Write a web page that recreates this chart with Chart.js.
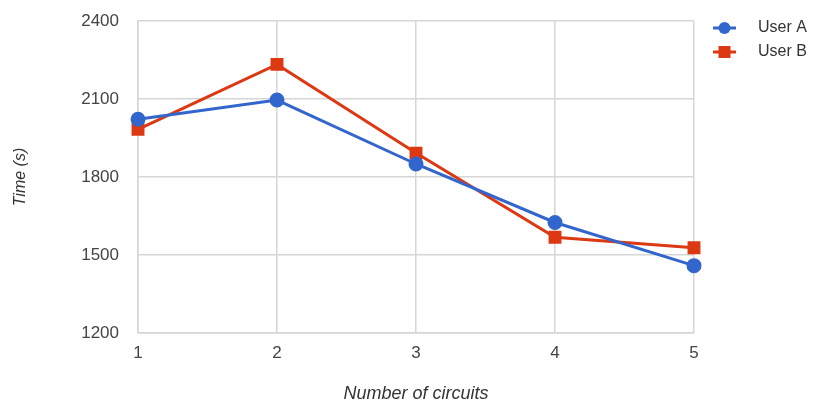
<!DOCTYPE html>
<html>
<head>
<meta charset="utf-8">
<script src="https://cdn.jsdelivr.net/npm/chart.js@4/dist/chart.umd.min.js"></script>
<style>
  html, body { margin: 0; padding: 0; background: #fff; }
  #wrap { width: 815px; height: 406px; }
</style>
</head>
<body>
<div id="wrap"><canvas id="chart" width="815" height="406"></canvas></div>
<script>
// Time per run vs number of circuits, two users.
const circuits = ['1', '2', '3', '4', '5'];
const userA = [2022, 2096, 1850, 1625, 1459];
const userB = [1983, 2233, 1892, 1568, 1528];
const yTicks = [1200, 1500, 1800, 2100, 2400];

const FONT = 'Arial, "Liberation Sans", sans-serif';
const BLUE = '#3366cc';
const RED = '#dc3912';

// Legend drawn by hand: line with marker in the middle, Google-chart style.
const sideLegend = {
    id: 'sideLegend',
    afterDraw(chart) {
        const ctx = chart.ctx;
        const x0 = 713, x1 = 736, tx = 758;
        chart.data.datasets.forEach((ds, i) => {
            const y = 28 + i * 24;
            ctx.save();
            ctx.strokeStyle = ds.borderColor;
            ctx.lineWidth = 3;
            ctx.beginPath();
            ctx.moveTo(x0, y);
            ctx.lineTo(x1, y);
            ctx.stroke();
            ctx.fillStyle = ds.backgroundColor;
            const cx = (x0 + x1) / 2;
            if (ds.pointStyle === 'rect') {
                ctx.fillRect(cx - 6, y - 6, 12, 12);
            } else {
                ctx.beginPath();
                ctx.arc(cx, y, 6, 0, Math.PI * 2);
                ctx.fill();
            }
            ctx.fillStyle = '#333';
            ctx.font = '16px ' + FONT;
            ctx.textBaseline = 'middle';
            ctx.textAlign = 'left';
            ctx.fillText(ds.label, tx, y);
            ctx.restore();
        });
    }
};

new Chart(document.getElementById('chart').getContext('2d'), {
    type: 'line',
    data: {
        labels: circuits,
        datasets: [
            { label: 'User A', data: userA, borderColor: BLUE, backgroundColor: BLUE,
              borderWidth: 3, pointStyle: 'circle', pointRadius: 6, pointHoverRadius: 6, tension: 0 },
            { label: 'User B', data: userB, borderColor: RED, backgroundColor: RED,
              borderWidth: 3, pointStyle: 'rect', pointRadius: 7, pointHoverRadius: 7, tension: 0 }
        ]
    },
    options: {
        responsive: false,
        animation: false,
        layout: { padding: { left: 0, right: 121, top: 21, bottom: 0 } },
        plugins: { legend: { display: false }, tooltip: { enabled: false } },
        scales: {
            x: {
                offset: false,
                grid: { color: '#d6d6d6', lineWidth: 1.5, drawTicks: false },
                border: { color: '#d6d6d6', width: 1.5 },
                ticks: { color: '#444', font: { size: 17, family: FONT }, padding: 10 },
                title: { display: true, text: 'Number of circuits', color: '#333',
                         font: { size: 18, style: 'italic', family: FONT }, padding: { top: 0, bottom: 1 } },
                afterFit: s => { s.height = 73; }
            },
            y: {
                min: yTicks[0], max: yTicks[yTicks.length - 1],
                afterBuildTicks: s => { s.ticks = yTicks.map(v => ({ value: v })); },
                // invisible tick marks give the label gap without padding the chart top
                grid: { color: '#d6d6d6', lineWidth: 1.5, drawTicks: true, tickLength: 19, tickColor: 'rgba(0,0,0,0)' },
                border: { color: '#d6d6d6', width: 1.5 },
                ticks: { color: '#444', font: { size: 17, family: FONT }, padding: 0,
                         callback: v => String(v) },
                title: { display: true, text: 'Time (s)', color: '#333',
                         font: { size: 16, style: 'italic', family: FONT }, padding: { top: 11, bottom: 0 } },
                afterFit: s => { s.width = 138; }
            }
        }
    },
    plugins: [sideLegend]
});
</script>
</body>
</html>
